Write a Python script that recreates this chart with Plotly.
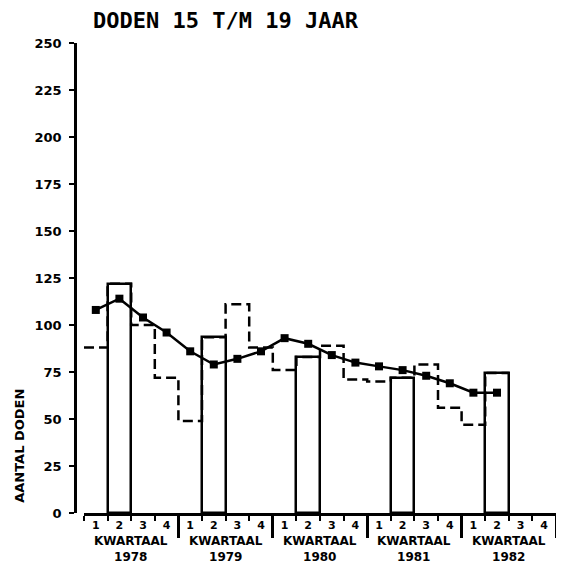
import plotly.graph_objects as go

# kwartalen 1978 t/m 1982 (20 kwartalen)
jaren = ["1978", "1979", "1980", "1981", "1982"]
kwartaal_labels = ["1", "2", "3", "4"]

# aantal doden per kwartaal (stippellijn), 1978-1 t/m 1982-2
doden_kwartaal = [88, 122, 100, 72, 49, 93.5, 111, 88, 76, 83,
                  89, 71, 70, 72, 79, 56, 47, 74.5]

# voortschrijdend gemiddelde (doorgetrokken lijn met blokjes)
gemiddelde = [108, 114, 104, 96, 86, 79, 82, 86, 93, 90,
              84, 80, 78, 76, 73, 69, 64, 64]

# staven: 2e kwartaal van elk jaar
staven = [122, 93.5, 83, 72, 74.5]

n_kw = len(jaren) * 4
kw_midden = [i + 0.5 for i in range(n_kw)]
kw_tekst = kwartaal_labels * len(jaren)
staaf_x = [j * 4 + 1.5 for j in range(len(jaren))]

FONT = "DejaVu Sans"

fig = go.Figure()

fig.add_trace(go.Bar(
    x=staaf_x, y=staven, width=1,
    marker=dict(color="white", line=dict(color="black", width=2.5)),
    showlegend=False,
))

# trapjeslijn: elk kwartaal loopt van begin tot eind van het kwartaal
step_x = list(range(len(doden_kwartaal) + 1))
step_y = doden_kwartaal + doden_kwartaal[-1:]
fig.add_trace(go.Scatter(
    x=step_x, y=step_y, mode="lines", line_shape="hv",
    line=dict(color="black", width=2.5, dash="10px,5px"),
    showlegend=False,
))

fig.add_trace(go.Scatter(
    x=kw_midden[:len(gemiddelde)], y=gemiddelde, mode="lines+markers",
    line=dict(color="black", width=2.5),
    marker=dict(symbol="square", size=8, color="black"),
    showlegend=False,
))

# onzichtbaar spoor zodat de tweede x-as getekend wordt
fig.add_trace(go.Scatter(x=[0, n_kw], y=[None, None], xaxis="x2",
                         mode="lines", showlegend=False, hoverinfo="skip"))

for j, jaar in enumerate(jaren):
    fig.add_annotation(
        x=j * 4 + 2, xref="x", y=-0.040, yref="paper",
        text="KWARTAAL<br>" + jaar, showarrow=False,
        yanchor="top", font=dict(family=FONT, size=12, color="black", weight="bold"),
    )

fig.add_annotation(
    x=0, xref="paper", xshift=-55, xanchor="center",
    y=0.143, yref="paper", yanchor="middle",
    text="AANTAL DODEN", textangle=-90, showarrow=False,
    font=dict(family=FONT, size=13, color="black", weight="bold"),
)

# de pagina heeft 8px marge rondom, daarom 8px kleiner
dom0 = 9 / 481
fig.update_layout(
    width=556, height=559,
    margin=dict(l=67, r=8, t=35, b=54),
    plot_bgcolor="white", paper_bgcolor="white",
    bargap=0,
    title=dict(text="DODEN 15 T/M 19 JAAR", x=85 / 556, xanchor="left",
               y=1 - 5 / 559, yanchor="top", pad=dict(t=0),
               font=dict(family="DejaVu Sans Mono", size=22, color="black", weight="bold")),
    xaxis=dict(
        domain=[dom0, 1], range=[0, n_kw],
        tickvals=kw_midden, ticktext=kw_tekst, ticks="",
        tickfont=dict(family=FONT, size=11, color="black", weight="bold"),
        ticklabelstandoff=0,
        showline=True, linecolor="black", linewidth=2.5,
        showgrid=False, zeroline=False,
        minor=dict(tickvals=list(range(n_kw + 1)), ticks="outside",
                   ticklen=5, tickwidth=2, tickcolor="black"),
    ),
    xaxis2=dict(
        domain=[dom0, 1], range=[0, n_kw], overlaying="x", anchor="y", side="bottom",
        tickvals=[4, 8, 12, 16, 20], ticks="outside", ticklen=24, tickwidth=2.5,
        tickcolor="black", showticklabels=False, showline=False,
        showgrid=False, zeroline=False,
    ),
    yaxis=dict(
        range=[0, 250], anchor="free", position=0,
        tickvals=list(range(0, 251, 25)), ticks="outside", ticklen=5,
        tickwidth=2, tickcolor="black",
        tickfont=dict(family=FONT, size=13, color="black", weight="bold"),
        ticklabelstandoff=5,
        showline=True, linecolor="black", linewidth=2.5,
        showgrid=False, zeroline=False,
    ),
)

fig.write_html("out.html")
